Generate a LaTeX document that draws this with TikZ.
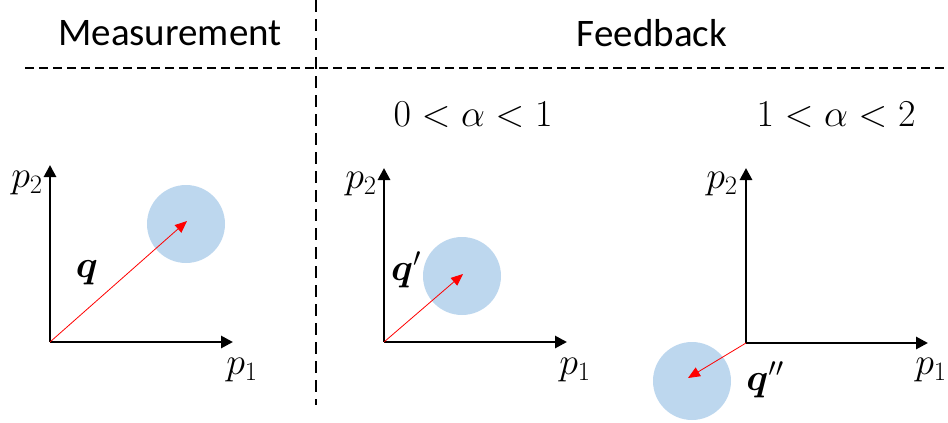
\RequirePackage{fix-cm}
\documentclass[tikz,border=0pt]{standalone}
\usepackage{amsmath,bm}
\usepackage{fontspec}
\setmainfont{Carlito}
\usepackage{tikz}
\usetikzlibrary{arrows.meta,positioning}
\definecolor{blobblue}{HTML}{BDD7EE}

\begin{document}
\begin{tikzpicture}[
  x=1pt,y=-1pt,
  axis/.style={draw,line width=2.8pt,-{Triangle[length=12pt,width=12pt]}},
  vec/.style={draw,red,line width=0.8pt,-{Triangle[length=12pt,width=10pt]}},
  blob/.style={circle,fill=blobblue,minimum size=78pt,inner sep=0pt},
  sep/.style={line width=2.6pt},
  lbl/.style={font=\fontsize{39}{46}\selectfont,inner sep=0pt},
  sym/.style={font=\fontsize{38}{44}\selectfont,inner sep=0pt}
]
  \useasboundingbox (0,0) rectangle (948,423);
  % separators
  \coordinate (vtop) at (316,0);
  \coordinate (vbot) at (316,405);
  \coordinate (hl) at (25,68);
  \coordinate (hr) at (948,68);
  \draw[sep,dash pattern=on 12pt off 7pt] (vtop) -- (vbot);
  \draw[sep,dash pattern=on 9pt off 5pt] (hl) -- (hr);
  % headings
  \node[lbl] (meas) at (170,33) {Measurement};
  \node[lbl] (feed) at (652,33) {Feedback};
  \node[sym] (lowa) at (473,115) {$0<\alpha<1$};
  \node[sym] (higha) at (836,115) {$1<\alpha<2$};

  % measurement
  \coordinate (o1) at (50,342);
  \node[blob] (c1) at (186,224) {};
  \coordinate (t1) at (187,221);
  \path[axis] (o1) -- (233,342) coordinate (x1);
  \path[axis] (o1) -- (50,165) coordinate (y1);
  \path[vec] (o1) -- (t1);
  \node[sym] (p2a) at (27,183) {$p_2$};
  \node[sym] (p1a) at (242,370) {$p_1$};
  \node[sym] (qa) at (87,273) {$\bm{q}$};

  % feedback, 0 < alpha < 1
  \coordinate (o2) at (384,342);
  \node[blob] (c2) at (462,276) {};
  \coordinate (t2) at (463,274);
  \path[axis] (o2) -- (567,342) coordinate (x2);
  \path[axis] (o2) -- (384,168) coordinate (y2);
  \path[vec] (o2) -- (t2);
  \node[sym] (p2b) at (361,184) {$p_2$};
  \node[sym] (p1b) at (575,370) {$p_1$};
  \node[sym] (qb) at (406,270) {$\bm{q}'$};

  % feedback, 1 < alpha < 2
  \coordinate (o3) at (746,343);
  \node[blob] (c3) at (692,381) {};
  \coordinate (t3) at (688,378);
  \path[axis] (o3) -- (928,343) coordinate (x3);
  \path[axis] (o3) -- (746,168) coordinate (y3);
  \path[vec] (o3) -- (t3);
  \node[sym] (p2c) at (722,184) {$p_2$};
  \node[sym] (p1c) at (931,370) {$p_1$};
  \node[sym] (qc) at (765,380) {$\bm{q}''$};
\end{tikzpicture}
\end{document}
